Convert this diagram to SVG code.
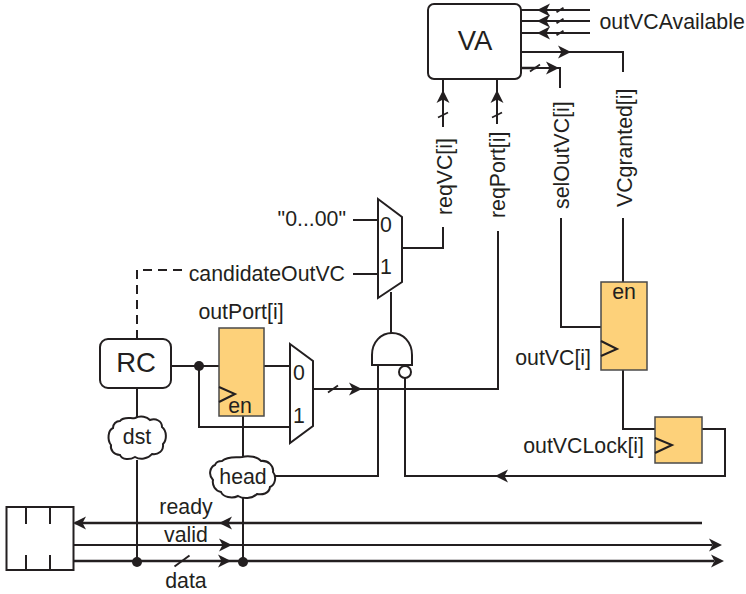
<svg xmlns="http://www.w3.org/2000/svg" xmlns:xlink="http://www.w3.org/1999/xlink" width="746" height="594" viewBox="0 0 746 594">
<style>
text{font-family:"Liberation Sans",Arial,sans-serif;font-size:21.300px;fill:#231f20}
.b{font-size:27.500px}
.w{fill:none;stroke:#231f20;stroke-width:2}
.t{stroke-width:2.500}
.s{fill:none;stroke:#231f20;stroke-width:2}
.n{fill:#fff;stroke:#231f20;stroke-width:2}
.f{fill:#fdd17a;stroke:#4a4a4a;stroke-width:1.500}
.d{fill:#231f20}
</style>
<defs>
<path id="ah" d="M0 0L-13 -6.500L-9.500 0L-13 6.500Z" fill="#231f20"/>
<line id="sl" x1="-5" y1="3.500" x2="5" y2="-3.500" stroke="#231f20" stroke-width="1.800"/>
<line id="ss" x1="-3.500" y1="2.300" x2="3.500" y2="-2.300" stroke="#231f20" stroke-width="1.800"/>
<line id="sv" x1="-5" y1="2.500" x2="5" y2="-2.500" stroke="#231f20" stroke-width="1.800"/>
<line id="sb" x1="-7.500" y1="5.500" x2="7.500" y2="-5.500" stroke="#231f20" stroke-width="2"/>
</defs>
<g id="connectors">
<path class="w" d="M521 10H590M521 21H590M521 33H590"/>
<path class="w" d="M521 52H623V72"/>
<path class="w t" d="M521 68H536"/>
<path class="w" d="M536 68H560V88"/>
<path class="w" d="M443 79V127M497 79V124"/>
<path class="w" d="M402 248H443V227"/>
<path class="w" d="M353 220H378M353 274H378"/>
<path class="w" d="M137 339V270H185" stroke-dasharray="9 6"/>
<path class="w" d="M391 292V333"/>
<path class="w" d="M378 365V476H275"/>
<path class="w" d="M405 378V476H725V429H702"/>
<path class="w" d="M313 389H498V231"/>
<path class="w" d="M171 366H219M264 366H290"/>
<path class="w" d="M199 366V427H290"/>
<path class="w" d="M243 416V456M243 498V561"/>
<path class="w" d="M137 388V417M137 460V561"/>
<path class="w" d="M623 218V282M561 218V327H601M623 370V429H655"/>
<path class="w t" d="M702 523H75"/>
<path class="w" d="M73 545H712"/>
<path class="w t" d="M73 561H714"/>
<use xlink:href="#ah" href="#ah" transform="translate(537 10) rotate(180)"/>
<use xlink:href="#ah" href="#ah" transform="translate(537 21) rotate(180)"/>
<use xlink:href="#ah" href="#ah" transform="translate(537 33) rotate(180)"/>
<use xlink:href="#ss" href="#ss" transform="translate(560 10)"/>
<use xlink:href="#ss" href="#ss" transform="translate(560 21)"/>
<use xlink:href="#ss" href="#ss" transform="translate(560 33)"/>
<use xlink:href="#ah" href="#ah" transform="translate(571 52)"/>
<use xlink:href="#ah" href="#ah" transform="translate(559 68)"/>
<use xlink:href="#sl" href="#sl" transform="translate(535 68)"/>
<use xlink:href="#ah" href="#ah" transform="translate(443 90) rotate(-90)"/>
<use xlink:href="#sv" href="#sv" transform="translate(443 115)"/>
<use xlink:href="#ah" href="#ah" transform="translate(497 90) rotate(-90)"/>
<use xlink:href="#sv" href="#sv" transform="translate(497 115)"/>
<use xlink:href="#ah" href="#ah" transform="translate(362 389)"/>
<use xlink:href="#sl" href="#sl" transform="translate(333 389)"/>
<use xlink:href="#ah" href="#ah" transform="translate(495 476) rotate(180)"/>
<use xlink:href="#ah" href="#ah" transform="translate(73 523) rotate(180)"/>
<use xlink:href="#ah" href="#ah" transform="translate(219 523) rotate(180)"/>
<use xlink:href="#ah" href="#ah" transform="translate(232 545)"/>
<use xlink:href="#ah" href="#ah" transform="translate(722 545)"/>
<use xlink:href="#ah" href="#ah" transform="translate(231 561)"/>
<use xlink:href="#ah" href="#ah" transform="translate(724 561)"/>
<use xlink:href="#sb" href="#sb" transform="translate(182 561)"/>
<circle class="d" cx="199" cy="366" r="5"/>
<circle class="d" cx="137" cy="562" r="5"/>
<circle class="d" cx="243" cy="562" r="5"/>
</g>
<g id="va"><rect class="n" x="428" y="4" width="93" height="75" rx="6"/><text class="b" x="475" y="50" text-anchor="middle">VA</text></g>
<g id="rc"><rect class="n" x="100" y="339" width="71" height="49" rx="8"/><text class="b" x="136" y="372" text-anchor="middle">RC</text></g>
<g id="buffer"><rect x="6.500" y="507" width="67" height="63" fill="#fff" stroke="#231f20" stroke-width="2"/><path class="s" d="M26 507V524M50 507V524M26 555V570M50 555V570"/></g>
<g id="mux1"><path class="n" d="M378 199L402 217V282L378 298Z"/><text x="386" y="232" text-anchor="middle">0</text><text x="386" y="274" text-anchor="middle">1</text></g>
<g id="mux2"><path class="n" d="M290 344L313 361V426L290 443Z"/><text x="299" y="380" text-anchor="middle">0</text><text x="299" y="423" text-anchor="middle">1</text></g>
<g id="and"><path class="n" d="M372 365V355C372 342 381 333 392 333C403 333 412 342 412 355V365Z"/><circle class="n" cx="405" cy="372" r="6"/></g>
<g id="outPort"><rect class="f" x="219" y="328" width="45" height="88"/><path class="s" d="M219 387L235 394L219 402"/><text x="240" y="413" text-anchor="middle">en</text></g>
<g id="outVC"><rect class="f" x="601" y="282" width="46" height="88"/><path class="s" d="M601 341L617 349L601 356"/><text x="624" y="299" text-anchor="middle">en</text></g>
<g id="outVCLock"><rect class="f" x="655" y="417" width="47" height="46"/><path class="s" d="M655 438L672 445L655 453"/></g>
<g id="dst"><path class="n" d="M120 421C124 416 131 419 135 418C141 415 147 417 150 420C156 418 162 421 162 427C167 431 167 440 163 444C164 451 158 455 152 454C148 459 140 460 135 457C130 460 122 460 120 455C114 455 110 450 111 445C107 440 108 430 113 428C113 424 116 421 120 421Z"/><text x="137" y="444" text-anchor="middle">dst</text></g>
<g id="head"><path class="n" d="M222 461C228 456 236 458 242 457C249 455 258 457 261 461C268 460 274 466 273 472C277 477 275 485 270 487C269 494 262 495 257 494C252 499 243 499 238 496C232 499 223 497 221 492C215 491 212 485 213 480C208 475 210 467 215 465C216 462 219 461 222 461Z"/><text x="243" y="484" text-anchor="middle">head</text></g>
<g id="labels">
<text x="599.500" y="29">outVCAvailable</text>
<text x="346" y="226" text-anchor="end">"0...00"</text>
<text x="345" y="281" text-anchor="end">candidateOutVC</text>
<text x="241" y="319" text-anchor="middle">outPort[i]</text>
<text x="591" y="365" text-anchor="end">outVC[i]</text>
<text x="644" y="453" text-anchor="end">outVCLock[i]</text>
<text x="186" y="514" text-anchor="middle">ready</text>
<text x="186" y="542" text-anchor="middle">valid</text>
<text x="186" y="588" text-anchor="middle">data</text>
<text transform="translate(452 215) rotate(-90)">reqVC[i]</text>
<text transform="translate(505 218) rotate(-90)">reqPort[i]</text>
<text transform="translate(569 209) rotate(-90)">selOutVC[i]</text>
<text transform="translate(632 207) rotate(-90)">VCgranted[i]</text>
</g>
</svg>
